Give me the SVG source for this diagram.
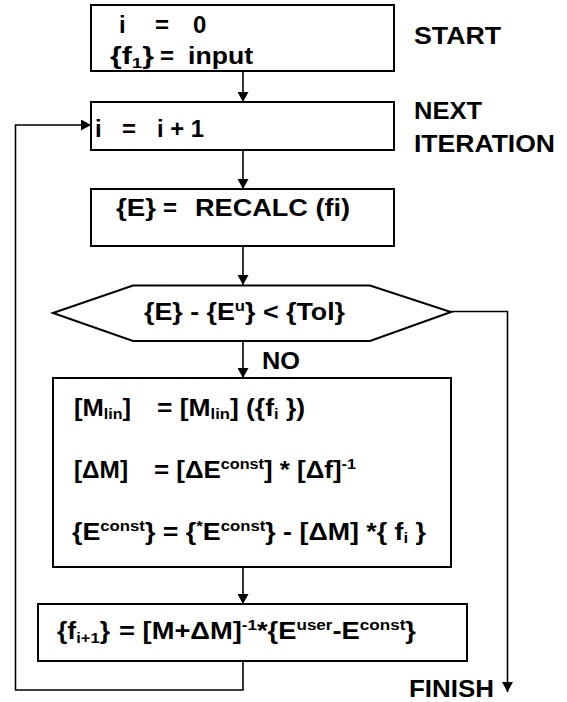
<svg xmlns="http://www.w3.org/2000/svg" width="567" height="702" viewBox="0 0 567 702">
<style>
.b{fill:#fff;stroke:#000;stroke-width:2}
.c{fill:none;stroke:#000;stroke-width:1.6}
.t{font-family:"Liberation Sans",Arial,Helvetica,sans-serif;font-weight:bold;font-size:24px;fill:#000}
.s{font-size:15px}
</style>
<defs>
<marker id="ah" viewBox="0 0 10 10" refX="10" refY="5" markerWidth="10" markerHeight="11" markerUnits="userSpaceOnUse" orient="auto" preserveAspectRatio="none"><path d="M0,0 L10,5 L0,10 z" fill="#000"/></marker>
</defs>
<rect width="567" height="702" fill="#fff"/>
<g id="connectors">
<path class="c" d="M243,71 V102" marker-end="url(#ah)"/>
<path class="c" d="M243,150 V189" marker-end="url(#ah)"/>
<path class="c" d="M243,246 V285" marker-end="url(#ah)"/>
<path class="c" d="M243,341 V378" marker-end="url(#ah)"/>
<path class="c" d="M243,567 V604" marker-end="url(#ah)"/>
<path class="c" d="M243,661 V690 H15.5 V125 H91" marker-end="url(#ah)"/>
<path class="c" d="M451,311.5 H507.5 V692" marker-end="url(#ah)"/>
</g>
<g id="start">
<rect class="b" x="91" y="5" width="303" height="66"/>
<text class="t" y="33"><tspan x="119">i</tspan><tspan x="155">=</tspan><tspan x="193">0</tspan></text>
<text class="t" x="110" y="64" textLength="44" lengthAdjust="spacingAndGlyphs">{f<tspan class="s" dy="4">1</tspan><tspan dy="-4">}</tspan></text>
<text class="t" x="160" y="64">=</text>
<text class="t" x="188" y="64" textLength="65" lengthAdjust="spacingAndGlyphs">input</text>
</g>
<g id="label-start"><text class="t" x="414" y="43.5" textLength="87" lengthAdjust="spacingAndGlyphs">START</text></g>
<g id="label-next">
<text class="t" x="414" y="119" textLength="68" lengthAdjust="spacingAndGlyphs">NEXT</text>
<text class="t" x="414" y="151.5" textLength="141" lengthAdjust="spacingAndGlyphs">ITERATION</text>
</g>
<g id="iterate">
<rect class="b" x="91" y="102" width="303" height="48"/>
<text class="t" y="137"><tspan x="95">i</tspan><tspan x="122">=</tspan></text>
<text class="t" x="157" y="137" textLength="47" lengthAdjust="spacingAndGlyphs">i + 1</text>
</g>
<g id="recalc">
<rect class="b" x="91" y="189" width="303" height="57"/>
<text class="t" x="116" y="216" textLength="40" lengthAdjust="spacingAndGlyphs">{E}</text>
<text class="t" x="163" y="216">=</text>
<text class="t" x="195" y="216" textLength="155" lengthAdjust="spacingAndGlyphs">RECALC (fi)</text>
</g>
<g id="check">
<polygon class="b" points="53,313 133,285.5 370,285.5 451,312 370,341 133,341"/>
<text class="t" x="144" y="320" textLength="201" lengthAdjust="spacingAndGlyphs">{E} - {E<tspan class="s" dy="-9">u</tspan><tspan dy="9">} &lt; {Tol}</tspan></text>
</g>
<g id="label-no"><text class="t" x="262" y="369" textLength="38" lengthAdjust="spacingAndGlyphs">NO</text></g>
<g id="update">
<rect class="b" x="53" y="378" width="398" height="189"/>
<text class="t" x="74" y="416" textLength="57" lengthAdjust="spacingAndGlyphs">[M<tspan class="s" dy="3">lin</tspan><tspan dy="-3">]</tspan></text>
<text class="t" x="157" y="416" textLength="148" lengthAdjust="spacingAndGlyphs">= [M<tspan class="s" dy="3">lin</tspan><tspan dy="-3">] ({f</tspan><tspan class="s" dy="3">i</tspan><tspan dy="-3"> })</tspan></text>
<text class="t" x="74" y="478" textLength="54" lengthAdjust="spacingAndGlyphs">[ΔM]</text>
<text class="t" x="154" y="478" textLength="202" lengthAdjust="spacingAndGlyphs">= [ΔE<tspan class="s" dy="-9">const</tspan><tspan dy="9">] * [Δf]</tspan><tspan class="s" dy="-9">-1</tspan></text>
<text class="t" x="72" y="540" textLength="354" lengthAdjust="spacingAndGlyphs">{E<tspan class="s" dy="-9">const</tspan><tspan dy="9">} = {</tspan><tspan class="s" dy="-9">*</tspan><tspan dy="9">E</tspan><tspan class="s" dy="-9">const</tspan><tspan dy="9">} - [ΔM] *{ f</tspan><tspan class="s" dy="3">i</tspan><tspan dy="-3"> }</tspan></text>
</g>
<g id="solve">
<rect class="b" x="38" y="604" width="429" height="57"/>
<text class="t" x="57" y="639" textLength="53" lengthAdjust="spacingAndGlyphs">{f<tspan class="s" dy="4">i+1</tspan><tspan dy="-4">}</tspan></text>
<text class="t" x="119" y="639" textLength="297" lengthAdjust="spacingAndGlyphs">= [M+ΔM]<tspan class="s" dy="-9">-1</tspan><tspan dy="9">*{E</tspan><tspan class="s" dy="-9">user</tspan><tspan dy="9">-E</tspan><tspan class="s" dy="-9">const</tspan><tspan dy="9">}</tspan></text>
</g>
<g id="label-finish"><text class="t" x="409" y="697" textLength="85" lengthAdjust="spacingAndGlyphs">FINISH</text></g>
</svg>
